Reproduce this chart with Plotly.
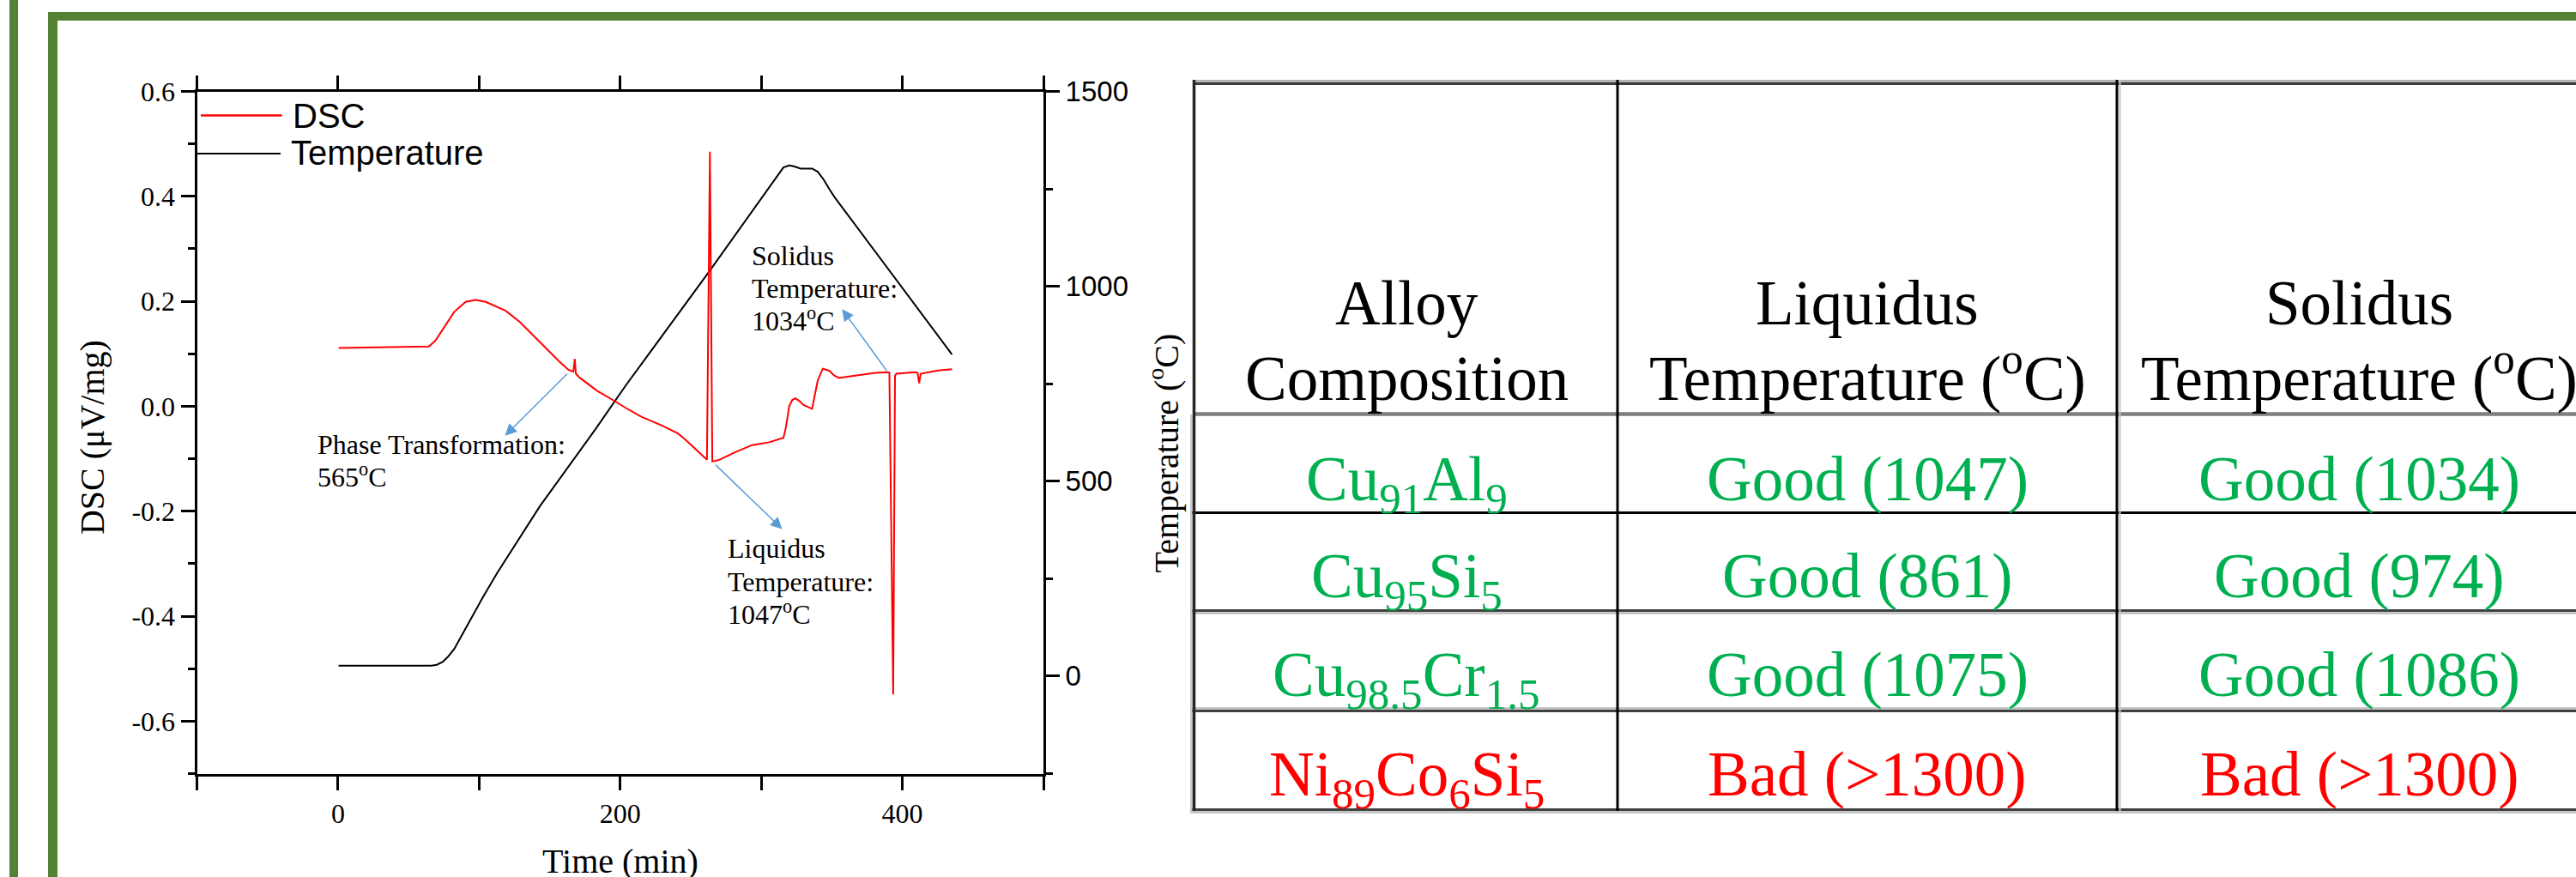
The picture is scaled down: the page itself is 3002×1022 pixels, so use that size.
import plotly.graph_objects as go

W, H = 3002, 1022
SERIF = "Liberation Serif"
SANS = "Liberation Sans"
GREEN = "#00B050"
RED = "#FF0000"

# ---------------- data ----------------
time_dsc = [0.4, 20, 40, 64.4, 69.0, 74.3, 82.4, 90.5, 97.6, 104.7, 112.7, 118.8, 128.9, 139.0,
            147.2, 151.2, 157.0, 163.3, 166.8, 167.8, 168.6, 171.5, 183.6, 195.7, 203.8, 214.7,
            228.9, 241.0, 246.0, 254.0, 261.5, 263.6, 265.3, 268.0, 271.2, 281.3, 293.5, 305.6,
            315.7, 317.5, 319.8, 322.0, 324.2, 327.0, 329.9, 336.0, 338.0, 340.0, 343.6, 348.1,
            352.0, 355.2, 360.0, 366.4, 380.5, 389.6, 390.8, 393.5, 394.8, 395.7, 402.0, 408.9,
            410.8, 411.9, 413.0, 425.0, 435.2]
dsc = [0.111, 0.112, 0.113, 0.114, 0.125, 0.147, 0.180, 0.199, 0.2026, 0.199, 0.190, 0.182,
       0.1606, 0.133, 0.1115, 0.100, 0.085, 0.0695, 0.066, 0.090, 0.062, 0.054, 0.0296, 0.0105,
       -0.003, -0.0195, -0.036, -0.052, -0.063, -0.083, -0.102, 0.485, -0.105, -0.104, -0.101,
       -0.0877, -0.074, -0.0686, -0.060, -0.040, 0.0, 0.012, 0.015, 0.010, 0.0023, -0.0048,
       0.020, 0.049, 0.0716, 0.0678, 0.058, 0.054, 0.056, 0.058, 0.0635, 0.065, 0.064, -0.549,
       0.058, 0.062, 0.064, 0.065, 0.064, 0.044, 0.062, 0.068, 0.0705]

time_temp = [0.4, 30, 66.2, 70, 74.3, 78, 82.4, 92.5, 102.6, 112.7, 143.1, 182.6, 203.8, 263.1,
             315.7, 319.8, 323.0, 327.9, 336.0, 340.0, 344.0, 348.1, 352.1, 435.2]
temp = [27, 27, 27, 29, 37, 50, 70, 136, 202, 264, 436, 634, 745, 1038,
        1305, 1310, 1308, 1302, 1302, 1294, 1275, 1250, 1228, 825]

x_ticks = [0, 200, 400]
x_ticklabels = ["0", "200", "400"]
x_minor = [-100, 100, 300, 500]
dsc_ticks = [-0.6, -0.4, -0.2, 0.0, 0.2, 0.4, 0.6]
dsc_ticklabels = ["-0.6", "-0.4", "-0.2", "0.0", "0.2", "0.4", "0.6"]
dsc_minor = [-0.7, -0.5, -0.3, -0.1, 0.1, 0.3, 0.5]
temp_ticks = [0, 500, 1000, 1500]
temp_ticklabels = ["0", "500", "1000", "1500"]
temp_minor = [-250, 250, 750, 1250]

# event annotations: text lines, arrow tail (time, dsc), arrow head (time, dsc)
event_lines = [["Phase Transformation:", "565<sup>o</sup>C"],
               ["Solidus", "Temperature:", "1034<sup>o</sup>C"],
               ["Liquidus", "Temperature:", "1047<sup>o</sup>C"]]
event_tail_t = [163.3, 389.6, 266.8]
event_tail_v = [0.064, 0.065, -0.1095]
event_head_t = [118.4, 357.3, 314.8]
event_head_v = [-0.056, 0.185, -0.234]

table_header = [["Alloy", "Composition"],
                ["Liquidus", "Temperature (<sup>o</sup>C)"],
                ["Solidus", "Temperature (<sup>o</sup>C)"]]
alloys = ["Cu<sub>91</sub>Al<sub>9</sub>", "Cu<sub>95</sub>Si<sub>5</sub>",
          "Cu<sub>98.5</sub>Cr<sub>1.5</sub>", "Ni<sub>89</sub>Co<sub>6</sub>Si<sub>5</sub>"]
liquidus = ["Good (1047)", "Good (861)", "Good (1075)", "Bad (&gt;1300)"]
solidus = ["Good (1034)", "Good (974)", "Good (1086)", "Bad (&gt;1300)"]
quality = ["Good", "Good", "Good", "Bad"]

# ---------------- helpers (pixel layout -> paper) ----------------
def px(x):
    return x / W


def py(y):
    return 1 - y / H


fig = go.Figure()
annotations = []
shapes = []


def label(x, baseline, text, size, family=SERIF, color="black", xanchor="left"):
    asc, desc = (0.891, 0.216) if family == SERIF else (0.905, 0.212)
    if "<sup>" in text:
        y, ya = baseline + desc * size, "bottom"
    else:
        y, ya = baseline - asc * size, "top"
    annotations.append(dict(x=px(x), y=py(y), xref="paper", yref="paper", text=text,
                            showarrow=False, xanchor=xanchor, yanchor=ya, borderpad=0,
                            borderwidth=0, font=dict(family=family, size=size, color=color)))


def hline(y, x0, x1, color, width):
    shapes.append(dict(type="line", xref="paper", yref="paper", x0=px(x0), x1=px(x1),
                       y0=py(y), y1=py(y), line=dict(color=color, width=width)))


def vline(x, y0, y1, color, width):
    shapes.append(dict(type="line", xref="paper", yref="paper", x0=px(x), x1=px(x),
                       y0=py(y0), y1=py(y1), line=dict(color=color, width=width)))


def rect(x0, y0, x1, y1, color):
    shapes.append(dict(type="rect", xref="paper", yref="paper", x0=px(x0), x1=px(x1),
                       y0=py(y1), y1=py(y0), fillcolor=color, line=dict(width=0)))


# ---------------- traces ----------------
fig.add_trace(go.Scatter(x=time_temp, y=temp, mode="lines", name="Temperature",
                         line=dict(color="black", width=2), yaxis="y", showlegend=False))
fig.add_trace(go.Scatter(x=time_dsc, y=dsc, mode="lines", name="DSC",
                         line=dict(color=RED, width=2), yaxis="y2", showlegend=False))

# ---------------- axes ----------------
tick_common = dict(showline=True, linewidth=3, linecolor="black", ticks="outside", ticklen=16,
                   tickwidth=3, tickcolor="black", showgrid=False, zeroline=False,
                   tickmode="array", automargin=False)
minor_common = dict(ticks="outside", ticklen=8, tickwidth=3, tickcolor="black", showgrid=False)

fig.update_layout(
    template="none",
    width=W, height=H, autosize=False,
    margin=dict(l=0, r=0, t=0, b=0, pad=0),
    paper_bgcolor="white", plot_bgcolor="white",
    showlegend=False,
    xaxis=dict(domain=[px(229.5), px(1216)], range=[-100, 500], mirror="allticks",
               tickvals=x_ticks, ticktext=x_ticklabels,
               tickfont=dict(family=SERIF, size=32, color="black"),
               minor=dict(tickmode="array", tickvals=x_minor, **minor_common),
               anchor="y", **tick_common),
    yaxis=dict(domain=[py(901.5), py(106.5)], range=[-250, 1500], side="right",
               tickvals=temp_ticks, ticktext=temp_ticklabels,
               tickfont=dict(family=SANS, size=33, color="black"),
               minor=dict(tickmode="array", tickvals=temp_minor, **minor_common),
               anchor="x", **tick_common),
    yaxis2=dict(range=[-0.7, 0.6], side="left", overlaying="y", anchor="x",
                tickvals=dsc_ticks, ticktext=dsc_ticklabels,
                tickfont=dict(family=SERIF, size=32, color="black"),
                minor=dict(tickmode="array", tickvals=dsc_minor, **minor_common),
                **tick_common),
)

# axis titles
annotations.append(dict(x=px(130.6), y=py(510), xref="paper", yref="paper",
                        text="DSC (\u03bcV/mg)", textangle=-90, showarrow=False,
                        xanchor="right", yanchor="middle", borderpad=0,
                        font=dict(family=SERIF, size=40, color="black")))
annotations.append(dict(x=px(1383), y=py(528), xref="paper", yref="paper",
                        text="Temperature (<sup>o</sup>C)", textangle=-90, showarrow=False,
                        xanchor="right", yanchor="middle", borderpad=0,
                        font=dict(family=SERIF, size=40, color="black")))
label(723, 1016.5, "Time (min)", 40, SERIF, "black", "center")

# legend (manual)
hline(134.5, 234, 328.5, RED, 2.5)
hline(179, 229, 327, "black", 2)
label(340.7, 149.3, "DSC", 40, SANS)
label(339, 191.7, "Temperature", 40, SANS)

# event labels
event_left = [369.7, 876, 848.3]
event_first_baseline = [528.3, 308.3, 650]
for lines, x0, b0 in zip(event_lines, event_left, event_first_baseline):
    for i, t in enumerate(lines):
        label(x0, b0 + 38.4 * i, t, 32, SERIF)

for tt, tv, ht, hv in zip(event_tail_t, event_tail_v, event_head_t, event_head_v):
    annotations.append(dict(x=ht, y=hv, ax=tt, ay=tv, xref="x", yref="y2", axref="x",
                            ayref="y2", text="", showarrow=True, arrowhead=2, arrowsize=1.8,
                            arrowwidth=1.5, arrowcolor="#5B9BD5", standoff=0,
                            startstandoff=0))

# ---------------- table ----------------
col_centers = [1639, 2176, 2749.5]
header_baselines = [378, 466]
row_baselines = [583, 696, 811, 927]
TS = 73
for c, lines in enumerate(table_header):
    for i, t in enumerate(lines):
        label(col_centers[c], header_baselines[i], t, TS, SERIF, "black", "center")
for r in range(len(alloys)):
    color = GREEN if quality[r] == "Good" else RED
    for c, t in enumerate([alloys[r], liquidus[r], solidus[r]]):
        label(col_centers[c], row_baselines[r], t, TS, SERIF, color, "center")

XR = 3045
hline(94.5, 1390, XR, "#b4b4b4", 3)
hline(97.5, 1390, XR, "#3c3c3c", 3)
hline(482.5, 1390, XR, "#7f7f7f", 4.5)
hline(597.5, 1387, XR, "black", 3)
hline(711.5, 1387, XR, "#404040", 3)
hline(714.5, 1387, XR, "#bdbdbd", 2.5)
hline(825.5, 1387, XR, "#bdbdbd", 2.5)
hline(828.5, 1387, XR, "#404040", 3)
hline(943.5, 1387, XR, "#404040", 3)
hline(946.5, 1387, XR, "#bdbdbd", 2.5)
vline(1388.3, 483, 945, "#c8c8c8", 2.5)
vline(1391.5, 93, 945, "#262626", 3.5)
vline(1885, 93, 945, "black", 3)
vline(2467, 93, 945, "black", 3)
vline(2470.5, 93, 945, "#c8c8c8", 2)

# ---------------- green frame ----------------
FRAME = "#548235"
rect(11, 0, 21, 1022, FRAME)
rect(56, 14, 67, 1022, FRAME)
rect(56, 14, 3002, 24, FRAME)

fig.update_layout(annotations=annotations, shapes=shapes)
fig.write_html(
    "out.html",
    config={"displayModeBar": False, "responsive": False},
    post_script=("document.documentElement.style.margin='0';"
                 "document.body.style.margin='0';document.body.style.padding='0';"
                 "document.body.style.overflow='hidden';"),
)
